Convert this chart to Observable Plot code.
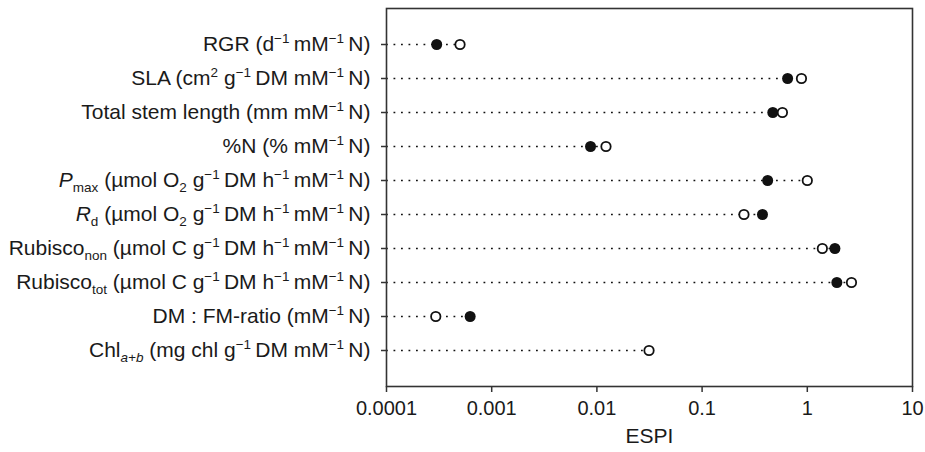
<!DOCTYPE html>
<html>
<head>
<meta charset="utf-8">
<script src="https://cdn.jsdelivr.net/npm/d3@7"></script>
<script src="https://cdn.jsdelivr.net/npm/@observablehq/plot@0.6"></script>
<style>
  html, body { margin: 0; padding: 0; background: #fff; }
  #chart svg { display: block; }
</style>
</head>
<body>
<div id="chart"></div>
<script>
// ---- data ----
// markup: ^{..} superscript, _{..} subscript, *..* italic
const categories = [
  "RGR (d^{\u22121}\u2009mM^{\u22121}\u2009N)",
  "SLA (cm^{2} g^{\u22121}\u2009DM mM^{\u22121}\u2009N)",
  "Total stem length (mm mM^{\u22121}\u2009N)",
  "%N (% mM^{\u22121}\u2009N)",
  "*P*_{max} (\u00B5mol O_{2} g^{\u22121}\u2009DM h^{\u22121}\u2009mM^{\u22121}\u2009N)",
  "*R*_{d} (\u00B5mol O_{2} g^{\u22121}\u2009DM h^{\u22121}\u2009mM^{\u22121}\u2009N)",
  "Rubisco_{non} (\u00B5mol C g^{\u22121}\u2009DM h^{\u22121}\u2009mM^{\u22121}\u2009N)",
  "Rubisco_{tot} (\u00B5mol C g^{\u22121}\u2009DM h^{\u22121}\u2009mM^{\u22121}\u2009N)",
  "DM : FM-ratio (mM^{\u22121}\u2009N)",
  "Chl_{*a+b*} (mg chl g^{\u22121}\u2009DM mM^{\u22121}\u2009N)"
];
const filledValues = [0.0003, 0.65, 0.47, 0.0087, 0.42, 0.375, 1.83, 1.91, 0.000624, null];
const openValues   = [0.0005, 0.88, 0.58, 0.0122, 1.0, 0.25, 1.39, 2.63, 0.000294, 0.0313];
const xDomain = [0.0001, 10];
const xTicks = [0.0001, 0.001, 0.01, 0.1, 1, 10];
const xTickLabels = ["0.0001", "0.001", "0.01", "0.1", "1", "10"];
const xTitle = ["ESPI"];

const rows = categories.map((c, i) => ({
  cat: c,
  filled: filledValues[i],
  open: openValues[i],
  max: Math.max(filledValues[i] ?? 0, openValues[i] ?? 0)
}));

const FONT = "'Liberation Sans', Arial, Helvetica, sans-serif";
const INK = "#1a1a1a";

const chart = Plot.plot({
  width: 925,
  height: 452,
  marginLeft: 386,
  marginRight: 13,
  marginTop: 8,
  marginBottom: 66,
  style: { fontFamily: FONT, color: INK, background: "#fff" },
  x: { type: "log", domain: xDomain },
  y: { type: "point", domain: categories, padding: 1 },
  marks: [
    Plot.ruleY(rows, {
      y: "cat", x1: d => xDomain[0], x2: "max",
      stroke: "#111", strokeWidth: 1.7, strokeDasharray: "1.8,5.7"
    }),
    Plot.dot(rows.filter(d => d.filled != null), {
      x: "filled", y: "cat", r: 5.5, fill: "#111", stroke: "none"
    }),
    Plot.dot(rows, {
      x: "open", y: "cat", r: 4.7, fill: "white", stroke: "#111", strokeWidth: 1.8
    }),
    Plot.frame({ stroke: "#333", strokeWidth: 1.6 }),
    Plot.axisX({
      ticks: xTicks,
      tickFormat: (d, i) => xTickLabels[xTicks.indexOf(d)],
      tickSize: 6, tickPadding: 8, fontSize: 20, label: null,
      stroke: "#333", strokeWidth: 1.5
    }),
    Plot.axisY({
      tickSize: 5, tickPadding: 11, fontSize: 21, label: null,
      tickFormat: d => d, stroke: "#333", strokeWidth: 1.5
    }),
    Plot.text(xTitle, {
      text: d => d, frameAnchor: "bottom", dy: 56, fontSize: 21, fill: INK
    })
  ]
});

document.getElementById("chart").appendChild(chart);

// ---- rich text for y labels (super/subscripts, italics) ----
function segments(s) {
  const parts = s.split(/(\^\{[^}]*\}|_\{[^}]*\}|\*[^*]*\*)/).filter(p => p !== "");
  return parts.map(p => {
    if (p.startsWith("^{")) return { kind: "sup", ...inner(p.slice(2, -1)) };
    if (p.startsWith("_{")) return { kind: "sub", ...inner(p.slice(2, -1)) };
    if (p.startsWith("*")) return { kind: "normal", text: p.slice(1, -1), italic: true };
    return { kind: "normal", text: p, italic: false };
  });
  function inner(t) {
    if (t.startsWith("*") && t.endsWith("*")) return { text: t.slice(1, -1), italic: true };
    return { text: t, italic: false };
  }
}
const svgNS = "http://www.w3.org/2000/svg";
const base = 21;
d3.select(chart).selectAll('g[aria-label="y-axis tick label"] text').each(function () {
  const label = this.textContent;
  if (!categories.includes(label)) return;
  while (this.firstChild) this.removeChild(this.firstChild);
  let shift = 0;
  for (const seg of segments(label)) {
    const ts = document.createElementNS(svgNS, "tspan");
    let target = 0, size = base;
    if (seg.kind === "sup") { target = -8; size = 13.5; }
    if (seg.kind === "sub") { target = 5; size = 13.5; }
    ts.setAttribute("dy", (target - shift));
    shift = target;
    ts.setAttribute("font-size", size);
    if (seg.italic) ts.setAttribute("font-style", "italic");
    ts.textContent = seg.text;
    this.appendChild(ts);
  }
});
</script>
</body>
</html>
